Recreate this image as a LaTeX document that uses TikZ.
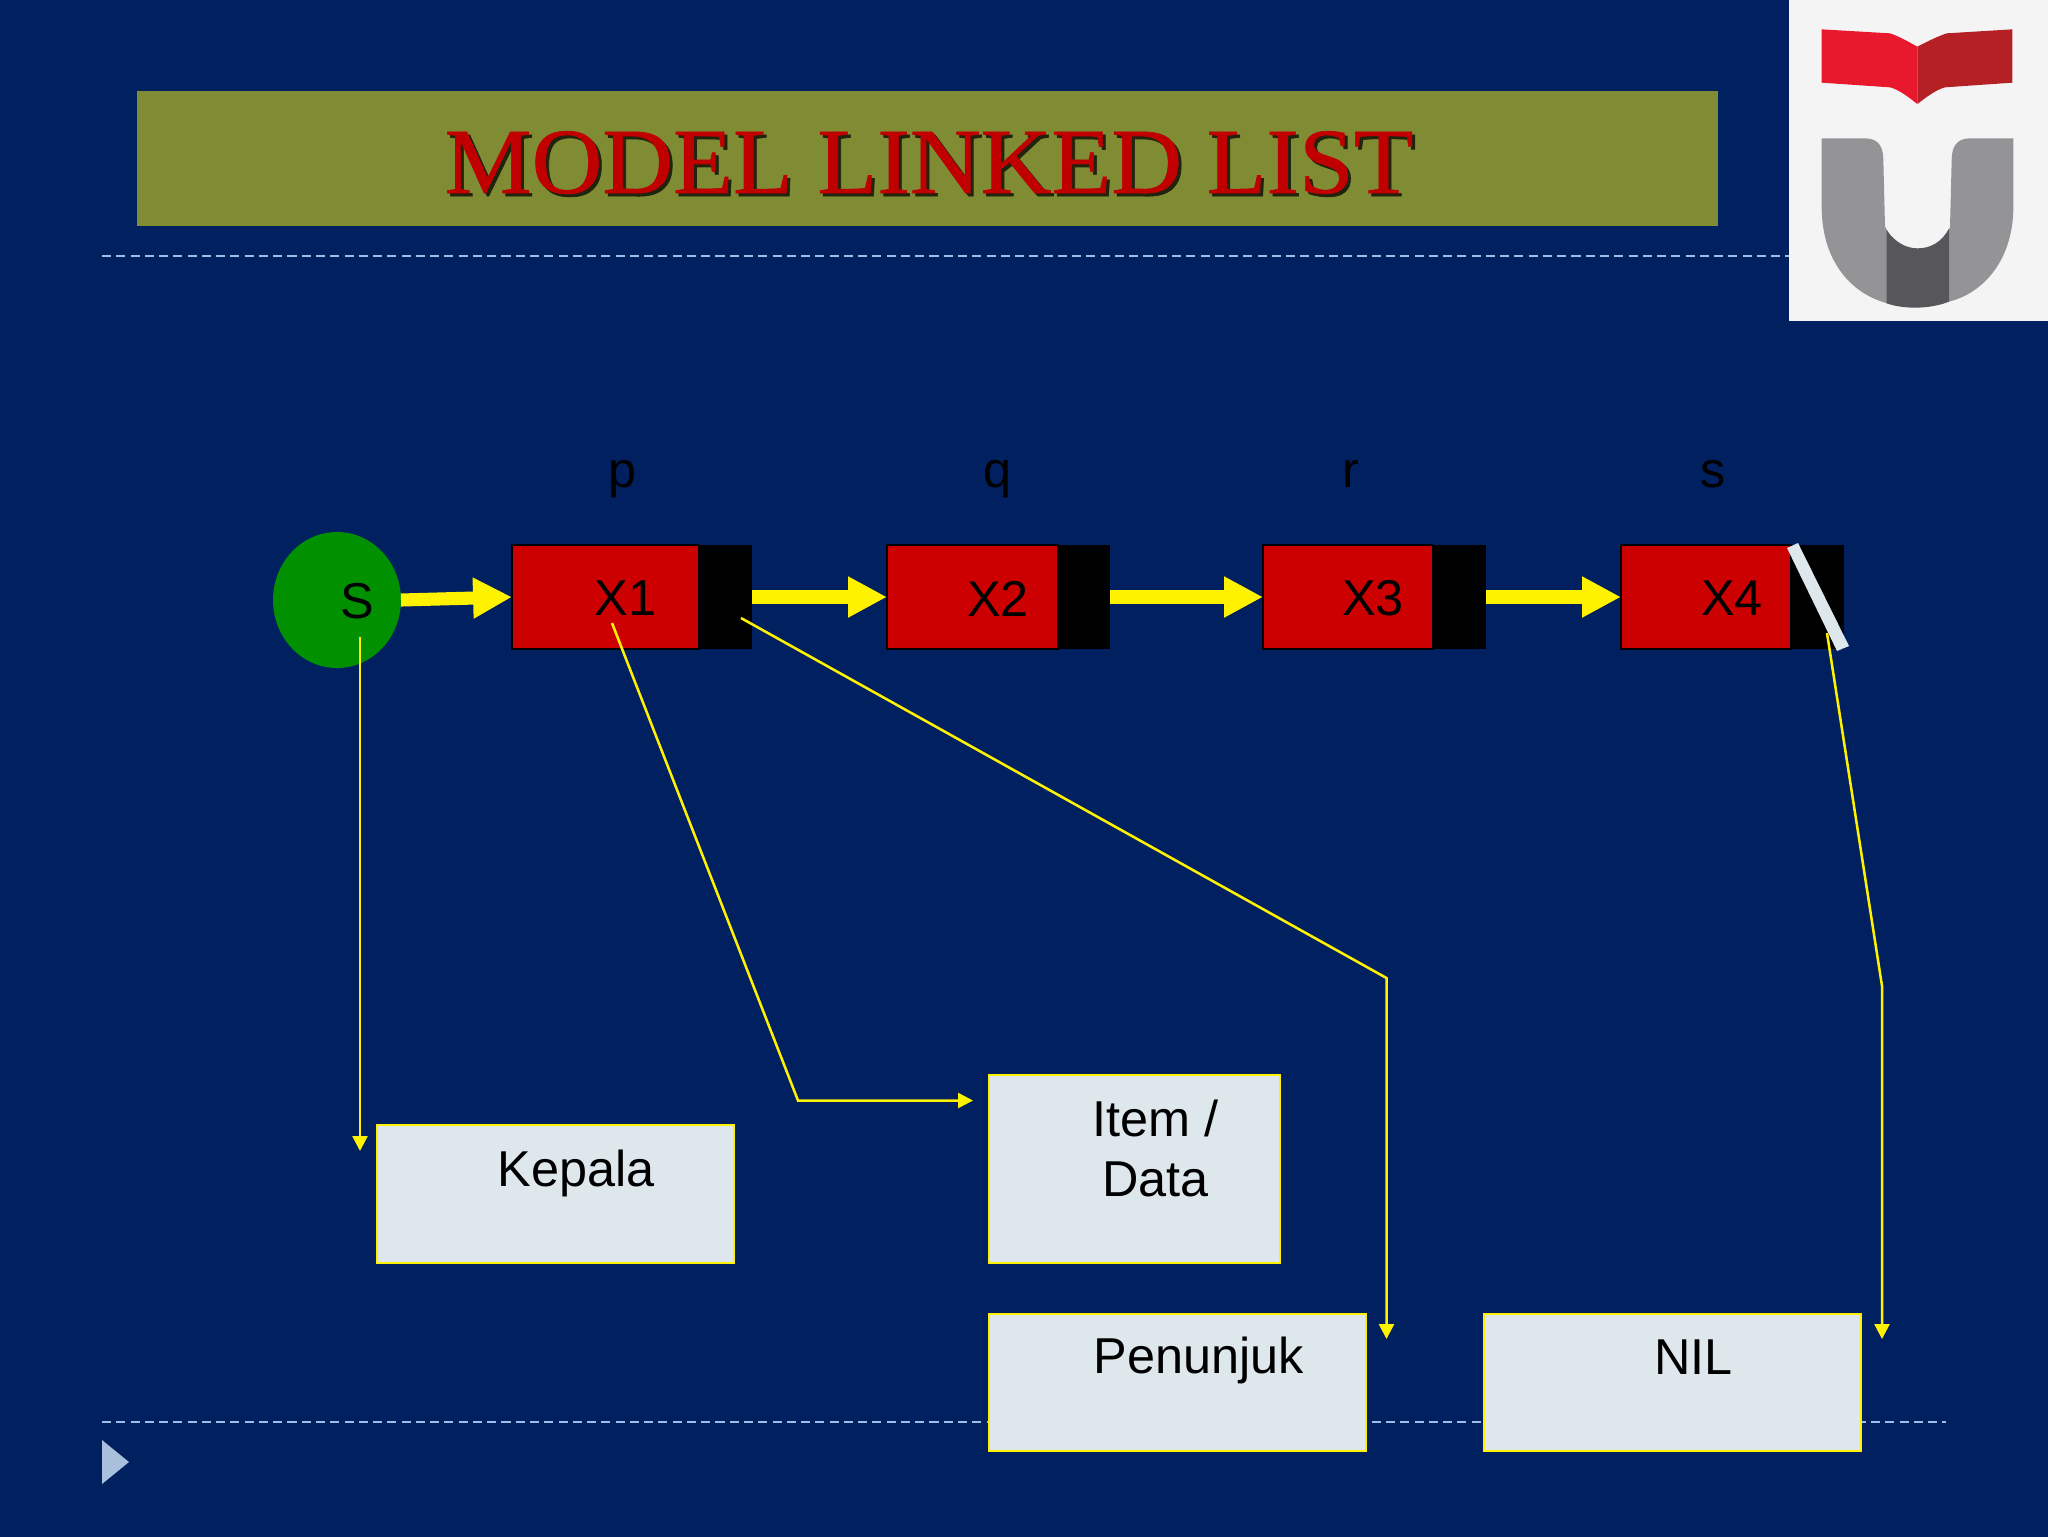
\documentclass[tikz,border=0pt]{standalone}
\usepackage{fontspec}
\setmainfont{Liberation Sans}
\newfontfamily\titlefont[FakeBold=0.7]{Liberation Serif}
\usetikzlibrary{arrows.meta,shapes.geometric}
\definecolor{bgblue}{HTML}{00205F}
\definecolor{barolive}{HTML}{7F8C33}
\definecolor{titlered}{HTML}{C00000}
\definecolor{dashblue}{HTML}{A0BCE8}
\definecolor{markblue}{HTML}{A9C0DC}
\definecolor{boxfill}{HTML}{DEE7EC}
\definecolor{nodered}{HTML}{CC0000}
\definecolor{sgreen}{HTML}{009000}
\definecolor{logobg}{HTML}{F4F4F4}
\definecolor{bookl}{HTML}{E8192C}
\definecolor{bookr}{HTML}{B52025}
\definecolor{ugray}{HTML}{949396}
\definecolor{udark}{HTML}{57565A}
\tikzset{
  dim/.style 2 args={minimum width=#1*0.375pt,minimum height=#2*0.375pt},
  every node/.style={inner sep=0pt,outer sep=0pt},
  txt/.style={font=\fontsize{18.9}{22}\selectfont,text=black},
  redcell/.style={fill=nodered,draw=black,line width=0.7pt},
  blackcell/.style={fill=black},
  infobox/.style={fill=boxfill,draw=yellow,line width=1.1pt},
  fatarrow/.style={draw=yellow,line width=4.9pt,-{Triangle[length=14.6pt,width=14.4pt]}},
  thinarrow/.style={draw=yellow,line width=0.95pt,-{Triangle[length=5.6pt,width=5.6pt]}},
  sepline/.style={draw=dashblue,line width=0.7pt,dash pattern=on 3.4pt off 1.95pt},
  titletxt/.style={font=\titlefont\fontsize{35}{40}\selectfont,xscale=1.05}
}
\begin{document}
\begin{tikzpicture}[x=0.375pt,y=-0.375pt]
\useasboundingbox (0,0) rectangle (2048,1536);
\fill[bgblue] (-6,-6) rectangle (2054,1542);
% title bar
\node[fill=barolive,dim={1581}{135}] (bar) at (927.5,158.5) {};
\node[titletxt,text=black!75!barolive,anchor=base] (titleshadow) at (932,196) {MODEL LINKED LIST};
\node[titletxt,text=titlered,anchor=base] (title) at (929,193) {MODEL LINKED LIST};
% separators
\coordinate (sepTopL) at (102,256);
\coordinate (sepTopR) at (1789,256);
\coordinate (sepBotL) at (102,1422);
\coordinate (sepBotR) at (1946,1422);
\draw[sepline] (sepTopL) -- (sepTopR);
\draw[sepline] (sepBotL) -- (sepBotR);
\fill[markblue] (102,1440) -- (129,1462) -- (102,1484) -- cycle;
% logo
\node[fill=logobg,dim={259}{321}] (logo) at (1918.5,160.5) {};
\begin{scope}[shift={(1750,0)},x=0.125pt,y=-0.125pt]
\fill[bookl] (215,88) -- (420,100) .. controls (450,110) and (480,128) .. (502,140) -- (502,312) .. controls (480,295) and (450,270) .. (420,262) -- (215,248) -- cycle;
\fill[bookr] (787,88) -- (590,100) .. controls (560,110) and (525,128) .. (502,140) -- (502,312) .. controls (525,295) and (555,270) .. (585,262) -- (787,248) -- cycle;
\fill[ugray] (215,415) -- (345,415) .. controls (385,415) and (400,440) .. (400,480) -- (405,680) -- (412,692) -- (412,910) .. controls (300,880) and (215,780) .. (215,620) -- cycle;
\fill[ugray] (790,415) -- (660,415) .. controls (620,415) and (605,440) .. (605,480) -- (600,680) -- (596,692) -- (596,905) .. controls (700,880) and (790,780) .. (790,620) -- cycle;
\fill[udark] (410,690) .. controls (435,728) and (470,745) .. (503,745) .. controls (540,745) and (575,728) .. (597,685) -- (597,905) .. controls (540,928) and (460,928) .. (410,910) -- cycle;
\end{scope}
% head
\node[fill=sgreen,ellipse,dim={128}{136}] (S) at (337,600) {};
\node[txt] (Slbl) at (357,601) {S};
% list cells
\node[blackcell,dim={53}{104}] (b1) at (725.5,597) {};
\node[redcell,dim={187}{104}] (c1) at (605.5,597) {};
\node[blackcell,dim={52}{104}] (b2) at (1084,597) {};
\node[redcell,dim={171}{104}] (c2) at (972.5,597) {};
\node[blackcell,dim={52}{104}] (b3) at (1459.5,597) {};
\node[redcell,dim={170}{104}] (c3) at (1348,597) {};
\node[blackcell,dim={53}{104}] (b4) at (1817.5,597) {};
\node[redcell,dim={170}{104}] (c4) at (1706,597) {};
\fill[boxfill] (1787,548) -- (1798,543) -- (1849,646) -- (1837,651) -- cycle;
% cell texts
\node[txt] (x1) at (625.5,598.5) {X1};
\node[txt] (x2) at (998,598.5) {X2};
\node[txt] (x3) at (1373,598.5) {X3};
\node[txt] (x4) at (1732,598.5) {X4};
\node[txt,anchor=base] (p) at (622.5,487) {p};
\node[txt,anchor=base] (q) at (998,487) {q};
\node[txt,anchor=base] (r) at (1351,487) {r};
\node[txt,anchor=base] (s) at (1713,487) {s};
% fat arrows
\draw[fatarrow] (S.east) -- (c1.west);
\draw[fatarrow] (b1.east) -- (c2.west);
\draw[fatarrow] (b2.east) -- (c3.west);
\draw[fatarrow] (b3.east) -- (c4.west);
% info boxes
\node[infobox,dim={357}{138}] (kepala) at (555.5,1194) {};
\node[infobox,dim={291}{188}] (item) at (1134.5,1169) {};
\node[infobox,dim={377}{137}] (penunjuk) at (1177.5,1382.5) {};
\node[infobox,dim={377}{137}] (nil) at (1672.5,1382.5) {};
\node[txt] (kepalaT) at (576,1173.5) {Kepala};
\node[txt,align=center,font=\fontsize{18.9}{22.6}\selectfont] (itemT) at (1155.5,1148.5) {Item /\\Data};
\node[txt] (penunjukT) at (1199,1360.5) {Penunjuk};
\node[txt] (nilT) at (1693.5,1357) {NIL};
% thin connectors
\coordinate (fromS) at (360,637);
\coordinate (toK) at (360,1151);
\draw[thinarrow] (fromS) -- (toK);
\coordinate (fromX) at (612,623);
\coordinate (bendI) at (798,1100.5);
\coordinate (toI) at (973,1100.5);
\draw[thinarrow] (fromX) -- (bendI) -- (toI);
\coordinate (fromP) at (741,618);
\coordinate (bendP) at (1386.5,978);
\coordinate (toP) at (1386.5,1339);
\draw[thinarrow] (fromP) -- (bendP) -- (toP);
\coordinate (fromN) at (1827,633);
\coordinate (bendN) at (1882,986);
\coordinate (toN) at (1882,1339);
\draw[thinarrow] (fromN) -- (bendN) -- (toN);
\end{tikzpicture}
\end{document}
